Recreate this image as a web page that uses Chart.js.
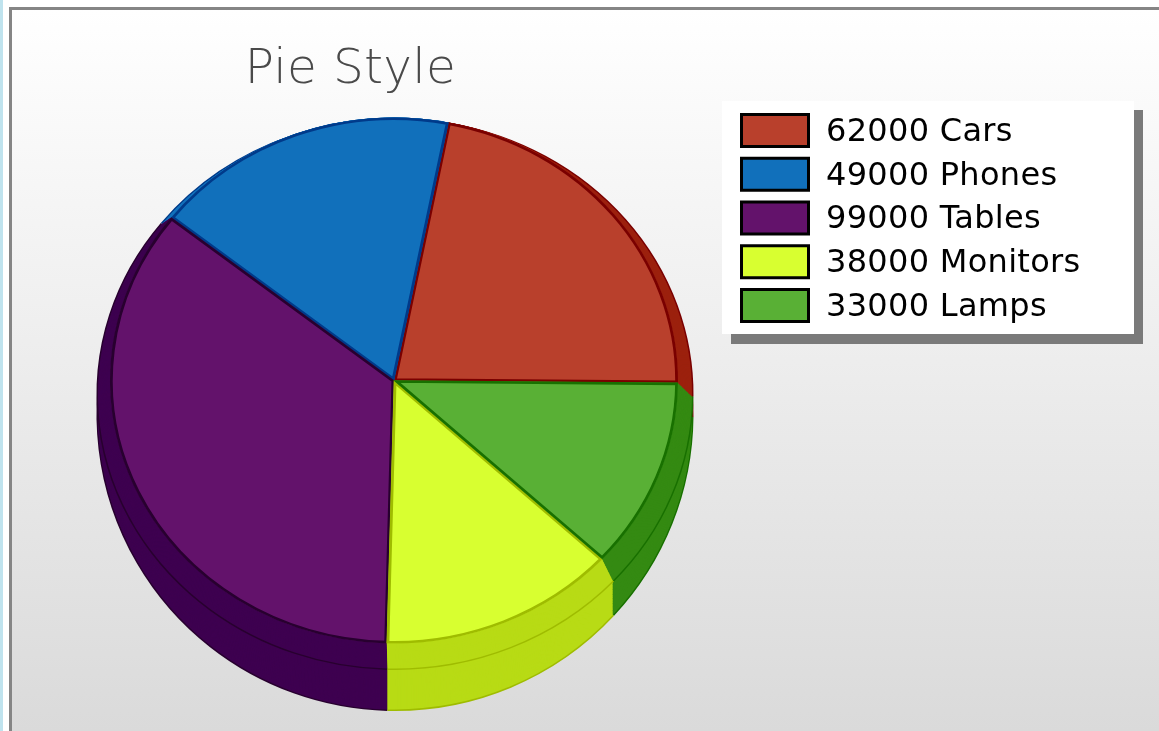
<!DOCTYPE html>
<html>
<head>
<meta charset="utf-8">
<title>Pie Style</title>
<script src="https://cdn.jsdelivr.net/npm/chart.js@4.4.0/dist/chart.umd.min.js"></script>
<style>
  html, body { margin: 0; padding: 0; background: #fff; overflow: hidden; }
  canvas { display: block; }
</style>
</head>
<body>
<canvas id="chart1" width="1159" height="731"></canvas>
<script>
const categories = ['Cars', 'Phones', 'Tables', 'Monitors', 'Lamps'];
const values = [62000, 49000, 99000, 38000, 33000];
const faceColors = ['#b9402c', '#1170bb', '#63126b', '#d8ff30', '#59b035'];
const sideColors = ['#9c200e', '#1170bb', '#3e0050', '#b8db15', '#348a12'];
const edgeColors = ['#7a0000', '#003a8a', '#28002f', '#9fbc00', '#187000'];

// the three stacked discs: top face, middle rim, bottom rim
const topDisc = { cx: 394, cy: 380.5, rx: 284, ry: 263 };
const midDisc = { cx: 395, cy: 394, rx: 297, ry: 274.5 };
const lowDisc = { cx: 395, cy: 414.5, rx: 297, ry: 295 };

function placeDisc(ctx, arc, disc) {
  const R = arc.outerRadius;
  ctx.translate(disc.cx, disc.cy);
  // slices run counter clockwise from 3 o'clock, so the disc is mirrored
  ctx.scale(-disc.rx / R, disc.ry / R);
  ctx.translate(-arc.x, -arc.y);
}

function fillSlice(ctx, arc, disc, color) {
  ctx.save();
  placeDisc(ctx, arc, disc);
  ctx.beginPath();
  ctx.moveTo(arc.x, arc.y);
  ctx.arc(arc.x, arc.y, arc.outerRadius, arc.startAngle, arc.endAngle);
  ctx.closePath();
  ctx.fillStyle = color;
  ctx.fill();
  ctx.restore();
}

function strokeRim(ctx, arc, disc, color) {
  ctx.save();
  placeDisc(ctx, arc, disc);
  ctx.beginPath();
  ctx.arc(arc.x, arc.y, arc.outerRadius, arc.startAngle, arc.endAngle);
  ctx.restore();
  ctx.strokeStyle = color;
  ctx.lineWidth = 3;
  ctx.stroke();
}

function mixDisc(a, b, t) {
  return {
    cx: a.cx + (b.cx - a.cx) * t,
    cy: a.cy + (b.cy - a.cy) * t,
    rx: a.rx + (b.rx - a.rx) * t,
    ry: a.ry + (b.ry - a.ry) * t
  };
}

// sweep the slices from one disc up to the next, one pixel at a time
function sweep(ctx, arcs, from, to) {
  const steps = Math.ceil(Math.abs(to.cy + to.ry - from.cy - from.ry));
  for (let s = 0; s <= steps; s++) {
    const disc = mixDisc(from, to, s / steps);
    arcs.forEach((arc, i) => fillSlice(ctx, arc, disc, sideColors[i]));
  }
}

const piePlugin = {
  id: 'pie3d',
  beforeDraw(chart) {
    const ctx = chart.ctx;
    ctx.save();
    ctx.fillStyle = '#fff';
    ctx.fillRect(0, 0, chart.width, chart.height);
    ctx.fillStyle = '#bfe3ee';
    ctx.fillRect(0, 0, 3, chart.height);
    const g = ctx.createLinearGradient(0, 9, 0, 731);
    g.addColorStop(0, '#ffffff');
    g.addColorStop(1, '#dadada');
    ctx.fillStyle = g;
    ctx.fillRect(11, 9, chart.width - 11, chart.height - 9);
    ctx.fillStyle = '#858585';
    ctx.fillRect(9, 7, chart.width - 9, 3);
    ctx.fillRect(9, 7, 3, chart.height - 7);
    // legend panel and its shadow
    ctx.fillStyle = '#7a7a7a';
    ctx.fillRect(731, 110, 412, 234);
    ctx.fillStyle = '#fff';
    ctx.fillRect(722, 101, 412, 233);
    // swatches sit a little above the label middle, so they are drawn here
    categories.forEach((name, i) => {
      ctx.fillStyle = faceColors[i];
      ctx.strokeStyle = '#000';
      ctx.lineWidth = 3;
      ctx.fillRect(741.5, 114.5 + i * 43.75, 67, 32);
      ctx.strokeRect(741.5, 114.5 + i * 43.75, 67, 32);
    });
    ctx.restore();
    ctx.letterSpacing = '0.3px';
  },
  afterLayout(chart) {
    const title = chart.titleBlock;
    title.left = 146;
    title.right = 555;
    title.top = 41;
    const legend = chart.legend;
    legend.left = 731.25;
    legend.right = 1130;
    legend.top = 104.75;
    legend.bottom = 731;
  },
  beforeDatasetsDraw(chart) {
    const ctx = chart.ctx;
    const arcs = chart.getDatasetMeta(0).data;
    sweep(ctx, arcs, lowDisc, midDisc);
    arcs.forEach((arc, i) => strokeRim(ctx, arc, lowDisc, edgeColors[i]));
    sweep(ctx, arcs, lowDisc, midDisc);
    arcs.forEach((arc, i) => strokeRim(ctx, arc, midDisc, edgeColors[i]));
    sweep(ctx, arcs, midDisc, topDisc);
    arcs.forEach((arc) => {
      ctx.save();
      placeDisc(ctx, arc, topDisc);
      arc.draw(ctx);
      ctx.restore();
    });
    return false;
  }
};

new Chart(document.getElementById('chart1'), {
  type: 'pie',
  data: {
    labels: categories,
    datasets: [{
      data: values,
      backgroundColor: faceColors,
      borderColor: edgeColors,
      borderWidth: 3,
      borderAlign: 'inner'
    }]
  },
  options: {
    responsive: false,
    animation: false,
    rotation: -90.5,
    layout: { padding: { right: 24 } },
    plugins: {
      title: {
        display: true,
        text: 'Pie Style',
        color: '#4a4a4a',
        font: { family: 'DejaVu Sans', size: 48.5, weight: 200, lineHeight: 1.2 },
        padding: 0
      },
      tooltip: { enabled: false },
      legend: {
        position: 'right',
        align: 'start',
        labels: {
          boxWidth: 67,
          boxHeight: 32,
          padding: 11.75,
          color: '#000',
          font: { family: 'DejaVu Sans', size: 32, lineHeight: 1.2 },
          generateLabels() {
            return categories.map((name, i) => ({
              text: values[i] + ' ' + name,
              fillStyle: 'transparent',
              strokeStyle: 'transparent',
              lineWidth: 0,
              index: i
            }));
          }
        }
      }
    }
  },
  plugins: [piePlugin]
});
</script>
</body>
</html>
